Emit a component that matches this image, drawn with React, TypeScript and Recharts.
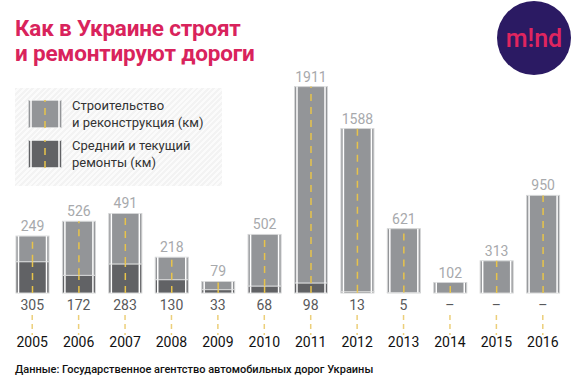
import { Bar, BarChart, LabelList, XAxis, YAxis } from "recharts";

const years = ["2005", "2006", "2007", "2008", "2009", "2010", "2011", "2012", "2013", "2014", "2015", "2016"];
// строительство и реконструкция, км
const construction = [249, 526, 491, 218, 79, 502, 1911, 1588, 621, 102, 313, 950];
// средний и текущий ремонты, км (нет данных — null)
const repair: (number | null)[] = [305, 172, 283, 130, 33, 68, 98, 13, 5, null, null, null];

const rows = years.map((year, i) => ({
  year,
  construction: construction[i],
  repair: repair[i] ?? 0,
  repairLabel: repair[i] == null ? "–" : String(repair[i]),
}));

const FONT = "Roboto, 'Noto Sans', sans-serif";
const PINK = "#d9235c";

const RoadShape = (props: any) => {
  const { x, y, width, height, fill } = props;
  if (!height || height <= 0) return null;
  const cx = x + width / 2;
  return (
    <g>
      <rect x={x} y={y} width={width} height={height} fill={fill} stroke="#d4d5d6" strokeWidth={1} />
      <line x1={x + 2.5} x2={x + 2.5} y1={y} y2={y + height} stroke="#fff" strokeWidth={1.5} />
      <line x1={x + width - 2.5} x2={x + width - 2.5} y1={y} y2={y + height} stroke="#fff" strokeWidth={1.5} />
      <line x1={cx} x2={cx} y1={y + height} y2={y} stroke="#e8c34a" strokeWidth={1.5} strokeDasharray="7 6" />
    </g>
  );
};

const YearTick = (props: any) => {
  const { x, y, payload, index } = props;
  const row = rows[index];
  return (
    <g>
      <text x={x} y={y + 17} textAnchor="middle" fontSize={14} fill="#58595b" fontFamily={FONT}>
        {row ? row.repairLabel : ""}
      </text>
      <line x1={x} x2={x} y1={y + 22} y2={y + 42} stroke="#eccf7a" strokeWidth={1.5} strokeDasharray="5 4" />
      <text x={x} y={y + 54} textAnchor="middle" fontSize={14} fill="#111" fontFamily={FONT}>
        {payload.value}
      </text>
    </g>
  );
};

const LegendSwatch = ({ color }: { color: string }) => (
  <svg width={34} height={28} style={{ display: "block" }}>
    <rect x={0.5} y={0.5} width={33} height={27} fill={color} stroke="#d4d5d6" />
    <line x1={3} x2={3} y1={0} y2={28} stroke="#fff" strokeWidth={1.5} />
    <line x1={31} x2={31} y1={0} y2={28} stroke="#fff" strokeWidth={1.5} />
    <line x1={17} x2={17} y1={28} y2={0} stroke="#e8c34a" strokeWidth={1.5} strokeDasharray="7 6" />
  </svg>
);

const titleStyle = {
  position: "absolute" as const,
  left: 15,
  color: PINK,
  fontSize: 22.5,
  fontWeight: 700,
  lineHeight: "24px",
  letterSpacing: -0.2,
  whiteSpace: "nowrap" as const,
};

export default function App() {
  return (
    <div style={{ position: "absolute", left: 0, top: 0, width: 575, height: 390, background: "#fff", fontFamily: FONT }}>
      <div style={{ ...titleStyle, top: 16 }}>Как в Украине строят</div>
      <div style={{ ...titleStyle, top: 41 }}>и ремонтируют дороги</div>

      <svg style={{ position: "absolute", left: 497, top: 1 }} width={74} height={76}>
        <circle cx={37} cy={37} r={37} fill="#2b1a63" />
        <text x={37} y={46} textAnchor="middle" fontSize={25} fontWeight={500} fill="#e0255f" fontFamily={FONT}>
          m!nd
        </text>
      </svg>

      <div
        style={{
          position: "absolute",
          left: 15,
          top: 88,
          width: 207,
          height: 98,
          background: "repeating-linear-gradient(135deg, #f3f3f3 0px, #f3f3f3 2px, #fbfbfb 2px, #fbfbfb 4px)",
        }}
      >
        <div style={{ position: "absolute", left: 13, top: 12 }}>
          <LegendSwatch color="#939598" />
        </div>
        <div style={{ position: "absolute", left: 57, top: 9, fontSize: 13, lineHeight: "17px", color: "#333" }}>
          Строительство
          <br />и реконструкция (км)
        </div>
        <div style={{ position: "absolute", left: 13, top: 52 }}>
          <LegendSwatch color="#616265" />
        </div>
        <div style={{ position: "absolute", left: 57, top: 49, fontSize: 13, lineHeight: "17px", color: "#333" }}>
          Средний и текущий
          <br />ремонты (км)
        </div>
      </div>

      <BarChart
        width={575}
        height={390}
        data={rows}
        margin={{ top: 67, right: 9, bottom: 0, left: 9 }}
        barSize={33}
        style={{ position: "absolute", left: 0, top: 0 }}
      >
        <XAxis
          dataKey="year"
          axisLine={false}
          tickLine={false}
          tickSize={0}
          tickMargin={0}
          interval={0}
          tick={<YearTick />}
          height={97}
        />
        <YAxis hide domain={[0, 2200]} />
        <Bar dataKey="repair" stackId="a" fill="#616265" shape={<RoadShape />} isAnimationActive={false} />
        <Bar dataKey="construction" stackId="a" fill="#939598" shape={<RoadShape />} isAnimationActive={false}>
          <LabelList dataKey="construction" position="top" offset={5} fill="#a7a9ac" fontSize={14} fontFamily={FONT} />
        </Bar>
      </BarChart>

      <div style={{ position: "absolute", left: 15, top: 363, fontSize: 11, color: "#111", fontWeight: 500 }}>
        Данные: Государственное агентство автомобильных дорог Украины
      </div>
    </div>
  );
}
